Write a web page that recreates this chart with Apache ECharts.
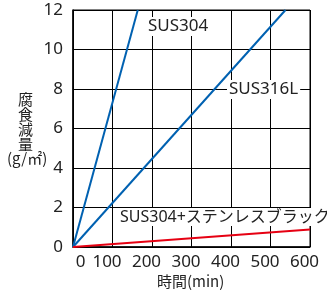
<!DOCTYPE html>
<html>
<head>
<meta charset="utf-8">
<script src="https://cdn.jsdelivr.net/npm/echarts@6/dist/echarts.min.js"></script>
<style>
  html, body { margin: 0; padding: 0; background: #fff; }
  #chart { width: 327px; height: 296px; }
</style>
</head>
<body>
<div id="chart"></div>
<script>
// 腐食減量 vs 時間
var xTicks = [0, 100, 200, 300, 400, 500, 600];
var yTicks = [0, 2, 4, 6, 8, 10, 12];
var seriesNames = ["SUS304", "SUS316L", "SUS304+ステンレスブラック"];
var sus304 = [[0, 0], [164, 12]];
var sus316L = [[0, 0], [538, 12]];
var sus304Black = [[0, 0], [600, 0.88]];
var yTitleChars = ["腐", "食", "減", "量"];

var font = "'Noto Sans', 'Noto Sans CJK JP', sans-serif";
var cjk = "'Noto Sans CJK JP', sans-serif";
var chart = echarts.init(document.getElementById("chart"));

function tag(text, x, y, size) {
  return {
    type: "text",
    left: x,
    top: y,
    z: 100,
    style: {
      text: text,
      fontFamily: font,
      fontSize: size || 17,
      fill: "#222",
      backgroundColor: "#fff",
      padding: [1, 2, 1, 2]
    }
  };
}

var graphics = [
  tag(seriesNames[0], 146, 17),
  tag(seriesNames[1], 227, 80),
  tag(seriesNames[2], 118, 208, 16),
  {
    type: "text", left: 7, top: 151,
    style: { text: "(g/㎡)", fontFamily: cjk, fontSize: 15, fill: "#222" }
  },
  {
    type: "text", left: 157, top: 274,
    style: { text: "時間(min)", fontFamily: cjk, fontSize: 15, fill: "#222" }
  }
];
yTitleChars.forEach(function (c, i) {
  graphics.push({
    type: "text", left: 18, top: 92 + i * 15,
    style: { text: c, fontFamily: cjk, fontSize: 15, fill: "#222" }
  });
});

var options = {
  animation: false,
  grid: {
    left: 73,
    top: 10,
    right: 17,
    bottom: 49,
    show: true,
    borderColor: "#000",
    borderWidth: 1
  },
  xAxis: {
    type: "value",
    min: xTicks[0],
    max: xTicks[xTicks.length - 1],
    interval: 100,
    axisLine: { lineStyle: { color: "#000", width: 1.5 } },
    axisTick: { show: false },
    axisLabel: {
      color: "#222",
      fontFamily: font,
      fontSize: 17,
      margin: 7,
      padding: [0, 11, 0, 0],
      formatter: function (v) { return v === 0 ? "{z|0}" : String(v); },
      rich: { z: { fontFamily: font, fontSize: 17, color: "#222", padding: [0, 0, 0, 26] } }
    },
    splitLine: { show: true, lineStyle: { color: "#000", width: 1 } }
  },
  yAxis: {
    type: "value",
    min: yTicks[0],
    max: yTicks[yTicks.length - 1],
    interval: 2,
    axisLine: { show: true, lineStyle: { color: "#000", width: 1.5 } },
    axisTick: { show: false },
    axisLabel: { color: "#222", fontFamily: font, fontSize: 17, margin: 10 },
    splitLine: { show: true, lineStyle: { color: "#000", width: 1 } }
  },
  series: [
    { name: seriesNames[0], type: "line", data: sus304, showSymbol: false,
      lineStyle: { color: "#0061b1", width: 2 }, z: 3 },
    { name: seriesNames[1], type: "line", data: sus316L, showSymbol: false,
      lineStyle: { color: "#0061b1", width: 2 }, z: 3 },
    { name: seriesNames[2], type: "line", data: sus304Black, showSymbol: false,
      lineStyle: { color: "#e60012", width: 2 }, z: 3 }
  ],
  graphic: graphics
};
chart.setOption(options);
</script>
</body>
</html>
